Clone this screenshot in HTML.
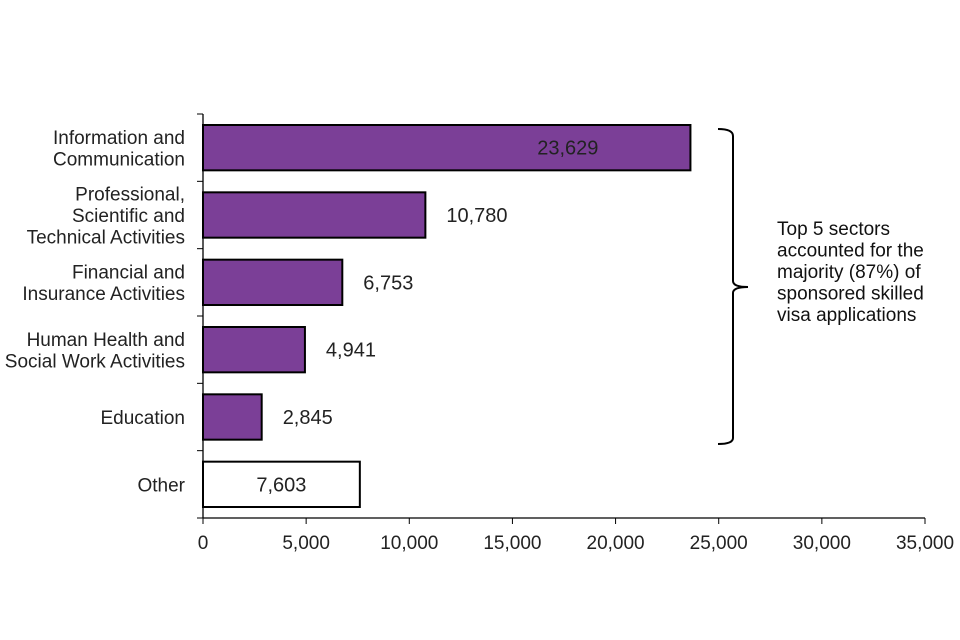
<!DOCTYPE html>
<html><head><meta charset="utf-8"><style>
body{margin:0;background:#fff}
svg{display:block;font-family:"Liberation Sans",Arial,sans-serif}
</style></head><body>
<svg id="c" width="960" height="640"></svg>
<script>
const categories=[["Information and","Communication"],["Professional,","Scientific and","Technical Activities"],["Financial and","Insurance Activities"],["Human Health and","Social Work Activities"],["Education"],["Other"]];
const values=[23629,10780,6753,4941,2845,7603];
const valueLabels=["23,629","10,780","6,753","4,941","2,845","7,603"];
const isTop5=[true,true,true,true,true,false];
const xTicks=[0,5000,10000,15000,20000,25000,30000,35000];
const xTickLabels=["0","5,000","10,000","15,000","20,000","25,000","30,000","35,000"];
const NS="http://www.w3.org/2000/svg",svg=document.getElementById('c');
const x0=203,x1=925,xMax=35000,yTop=114,yBot=518;
const band=(yBot-yTop)/categories.length;
const xs=v=>x0+(v/xMax)*(x1-x0);
function mk(t,a,p){const e=document.createElementNS(NS,t);for(const k in a)e.setAttribute(k,a[k]);(p||svg).appendChild(e);return e;}
values.forEach((v,i)=>{
 const y=yTop+i*band+11,h=band-22;
 const r=mk('rect',{x:x0,y:y,width:xs(v)-x0,height:h,fill:isTop5[i]?'#7B3F97':'#fff',stroke:'#000','stroke-width':2});
 
 
 const inside=!isTop5[i]||v===Math.max(...values);
 let tx,anchor;
 if(!isTop5[i]){tx=(x0+xs(v))/2;anchor='middle';}
 else if(inside){tx=xs(v)-92;anchor='end';}
 else{tx=xs(v)+21;anchor='start';}
 const t=mk('text',{x:tx,y:y+h/2+7,'font-size':20,'text-anchor':anchor,fill:'#222'});
 t.textContent=valueLabels[i];
 
 
 const lines=categories[i],cy=yTop+i*band+band/2,lh=21.5;
 const ct=mk('text',{x:185,'font-size':19,'text-anchor':'end',fill:'#222'});
 
 
 lines.forEach((l,j)=>{const s=mk('tspan',{x:185,y:cy+7+(j-(lines.length-1)/2)*lh},ct);s.textContent=l;});
});
for(let i=0;i<=categories.length;i++){const y=yTop+i*band;mk('line',{x1:197,x2:x0,y1:y,y2:y,stroke:'#000','stroke-width':1});}
const ya=mk('line',{x1:x0,x2:x0,y1:yTop,y2:yBot,stroke:'#000','stroke-width':1.3});

const xa=mk('line',{x1:x0,x2:x1,y1:yBot,y2:yBot,stroke:'#000','stroke-width':1.3});

xTicks.forEach((v,i)=>{mk('line',{x1:xs(v),x2:xs(v),y1:yBot,y2:yBot+6,stroke:'#000'});
 const t=mk('text',{x:xs(v),y:yBot+31,'font-size':19,'text-anchor':'middle',fill:'#222'});t.textContent=xTickLabels[i];
 });
const b=mk('path',{d:'M718 129 Q733 129 733 136 L733 281 Q733 287 748 287 Q733 287 733 293 L733 438 Q733 444 718 444',fill:'none',stroke:'#000','stroke-width':2});

const an=mk('text',{'font-size':19,fill:'#111'});

["Top 5 sectors","accounted for the","majority (87%) of","sponsored skilled","visa applications"].forEach((l,j)=>{const s=mk('tspan',{x:777,y:235+j*21.5},an);s.textContent=l;});
</script>
</body></html>
